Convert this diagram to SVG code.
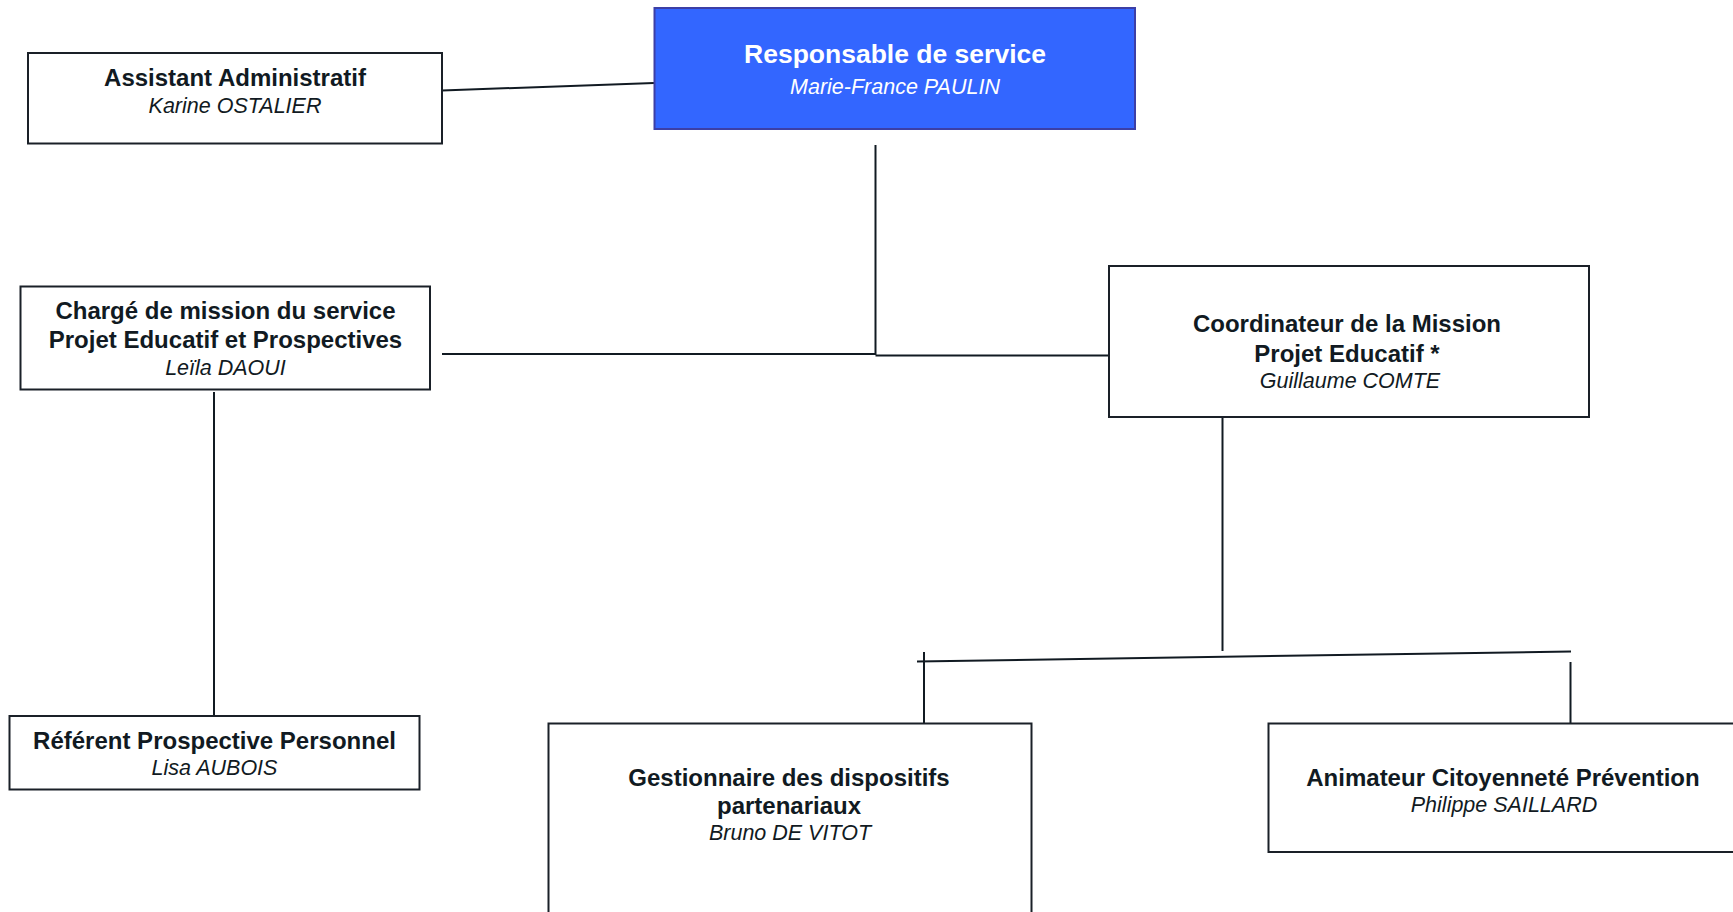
<svg xmlns="http://www.w3.org/2000/svg" width="1733" height="912" viewBox="0 0 1733 912">
  <style>
    .box { fill: #ffffff; stroke: #1a2028; stroke-width: 2; }
    .head { fill: #3366ff; stroke: #3c3fa6; stroke-width: 2; }
    .t { font-family: "Liberation Sans", Arial, sans-serif; font-weight: bold; font-size: 24px; fill: #111a22; text-anchor: middle; }
    .n { font-family: "Liberation Sans", Arial, sans-serif; font-style: italic; font-size: 21.5px; fill: #111a22; text-anchor: middle; }
    .w { fill: #ffffff; }
    .link { fill: none; stroke: #111a22; stroke-width: 2; }
  </style>

  <!-- connectors -->
  <g id="connectors">
    <line class="link" x1="442" y1="90.5" x2="654" y2="83"/>
    <line class="link" x1="875.5" y1="145" x2="875.5" y2="355"/>
    <line class="link" x1="442" y1="354" x2="875.5" y2="354"/>
    <line class="link" x1="875.5" y1="355.5" x2="1108" y2="355.5"/>
    <line class="link" x1="214" y1="392" x2="214" y2="721"/>
    <line class="link" x1="1222.5" y1="417" x2="1222.5" y2="651"/>
    <line class="link" x1="917" y1="661.5" x2="1571" y2="651.5"/>
    <line class="link" x1="924" y1="652" x2="924" y2="723"/>
    <line class="link" x1="1570.5" y1="662" x2="1570.5" y2="723"/>
  </g>

  <!-- head of service -->
  <g id="node-responsable">
    <rect class="head" x="654.5" y="8" width="480.5" height="121"/>
    <text class="t w" x="895" y="63" style="font-size:26.5px">Responsable de service</text>
    <text class="n w" x="895" y="93.5">Marie-France PAULIN</text>
  </g>

  <g id="node-assistant">
    <rect class="box" x="28" y="53" width="414" height="90.5"/>
    <text class="t" x="235" y="86">Assistant Administratif</text>
    <text class="n" x="235" y="112.5">Karine OSTALIER</text>
  </g>

  <g id="node-charge-mission">
    <rect class="box" x="20.5" y="286.5" width="409.5" height="103"/>
    <text class="t" x="225.5" y="319">Chargé de mission du service</text>
    <text class="t" x="225.5" y="347.5">Projet Educatif et Prospectives</text>
    <text class="n" x="225.5" y="374.5">Leïla DAOUI</text>
  </g>

  <g id="node-coordinateur">
    <rect class="box" x="1109" y="266" width="480" height="151"/>
    <text class="t" x="1347" y="332">Coordinateur de la Mission</text>
    <text class="t" x="1347" y="362">Projet Educatif *</text>
    <text class="n" x="1350" y="387.5">Guillaume COMTE</text>
  </g>

  <g id="node-referent">
    <rect class="box" x="9.5" y="716" width="410" height="73.5"/>
    <text class="t" x="214.5" y="749">Référent Prospective Personnel</text>
    <text class="n" x="214.5" y="774.5">Lisa AUBOIS</text>
  </g>

  <g id="node-gestionnaire">
    <rect class="box" x="548.5" y="723.5" width="483" height="200"/>
    <text class="t" x="789" y="785.5">Gestionnaire des dispositifs</text>
    <text class="t" x="789" y="814">partenariaux</text>
    <text class="n" x="790" y="839.5">Bruno DE VITOT</text>
  </g>

  <g id="node-animateur">
    <rect class="box" x="1268.5" y="723.5" width="480" height="128.5"/>
    <text class="t" x="1503" y="785.5">Animateur Citoyenneté Prévention</text>
    <text class="n" x="1504" y="812">Philippe SAILLARD</text>
  </g>
</svg>
